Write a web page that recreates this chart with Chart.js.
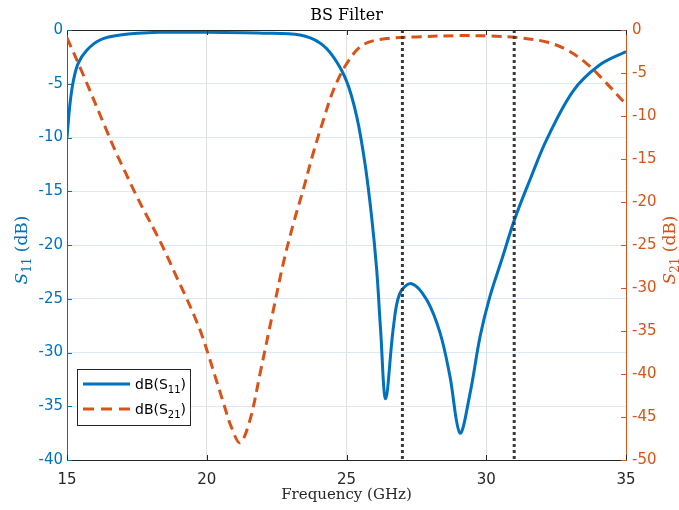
<!DOCTYPE html>
<html>
<head>
<meta charset="utf-8">
<script src="https://cdn.jsdelivr.net/npm/chart.js@4/dist/chart.umd.min.js"></script>
<style>
  html, body { margin: 0; padding: 0; background: #fff; }
  #chart-canvas { display: block; }
</style>
</head>
<body>
<canvas id="chart-canvas" width="679" height="510"></canvas>
<script>
// values
const freqS11 = [15.0, 15.11, 15.23, 15.40, 15.70, 16.18, 16.9, 18.3, 20.0, 22.0, 23.34, 24.05, 24.53, 25.01,
  25.37, 25.66, 25.90, 26.08, 26.22, 26.40, 26.68, 26.91, 27.33, 27.87, 28.35, 28.70, 29.06, 29.42,
  29.78, 30.13, 30.55, 31.03, 31.6, 32.16, 33.1, 34.03, 35.0];
const s11 = [-10.0, -6.8, -4.7, -3.1, -1.9, -0.93, -0.47, -0.22, -0.22, -0.3, -0.47, -1.2, -2.5, -4.8,
  -8.1, -12.4, -17.4, -22.3, -27.9, -34.3, -27.6, -24.5, -23.6, -25.1, -28.2, -32.2, -37.5, -33.8,
  -28.5, -24.8, -21.4, -17.5, -13.7, -10.2, -5.7, -3.3, -2.0];

const freqS21 = [15.0, 15.58, 16.38, 16.72, 17.08, 17.43, 17.82, 18.21, 18.57, 18.89, 19.25, 19.60, 19.84,
  20.06, 20.36, 20.62, 20.86, 21.19, 21.55, 21.91, 22.38, 22.74, 23.10, 23.45, 23.81, 24.17, 24.53,
  25.01, 25.60, 26.44, 27.5, 29.0, 30.13, 31.2, 32.16, 32.88, 33.59, 34.19, 34.85, 35.0];
const s21 = [-0.9, -5.2, -11.4, -14.0, -16.5, -18.9, -21.4, -23.8, -26.2, -28.5, -31.0, -33.6, -35.6,
  -37.8, -40.9, -43.6, -46.0, -48.0, -45.3, -39.9, -32.6, -27.1, -22.5, -18.6, -14.3, -10.5, -7.0,
  -3.9, -1.7, -1.0, -0.8, -0.65, -0.7, -0.9, -1.4, -2.3, -3.9, -5.8, -8.1, -8.6];

const markerFreqs = [27, 31];
const xTicks = [15, 20, 25, 30, 35];
const leftTicks = [0, -5, -10, -15, -20, -25, -30, -35, -40];
const rightTicks = [0, -5, -10, -15, -20, -25, -30, -35, -40, -45, -50];

const BLUE = '#0072BD';
const ORANGE = '#D95319';
const DARK = '#262626';
const SANS = '"DejaVu Sans", sans-serif';
const SERIF = '"DejaVu Serif", serif';

Chart.defaults.font.family = SANS;
Chart.defaults.font.size = 15;

const pts = (xs, ys) => xs.map((x, i) => ({ x: x, y: ys[i] }));

const markerSets = markerFreqs.map(f => ({
  label: 'marker ' + f,
  data: [{ x: f, y: 0 }, { x: f, y: -40 }],
  yAxisID: 'y',
  borderColor: '#3a3a3a',
  borderWidth: 3,
  borderDash: [3, 3],
  pointRadius: 0,
  tension: 0,
  order: 0
}));

// draw text with a subscript part, returns the width used
function subText(ctx, parts, x, y, measureOnly) {
  let w = 0;
  parts.forEach(p => {
    ctx.font = p.font;
    const dw = ctx.measureText(p.t).width;
    if (!measureOnly) ctx.fillText(p.t, x + w, y + (p.dy || 0));
    w += dw;
  });
  return w;
}

const extras = {
  id: 'extras',
  afterDraw(chart) {
    const ctx = chart.ctx;
    const a = chart.chartArea;
    const sx = chart.scales.x, sy = chart.scales.y, sy2 = chart.scales.y2;
    ctx.save();

    // top border
    ctx.strokeStyle = DARK;
    ctx.lineWidth = 1;
    ctx.beginPath();
    ctx.moveTo(a.left, a.top + 0.5);
    ctx.lineTo(a.right, a.top + 0.5);
    ctx.stroke();

    // inward ticks
    const tl = 5;
    ctx.beginPath();
    xTicks.forEach(v => {
      const px = Math.round(sx.getPixelForValue(v)) + 0.5;
      ctx.moveTo(px, a.bottom); ctx.lineTo(px, a.bottom - tl);
      ctx.moveTo(px, a.top); ctx.lineTo(px, a.top + tl);
    });
    ctx.stroke();
    ctx.strokeStyle = BLUE;
    ctx.beginPath();
    leftTicks.forEach(v => {
      const py = Math.round(sy.getPixelForValue(v)) + 0.5;
      ctx.moveTo(a.left, py); ctx.lineTo(a.left + tl, py);
    });
    ctx.stroke();
    ctx.strokeStyle = ORANGE;
    ctx.beginPath();
    rightTicks.forEach(v => {
      const py = Math.round(sy2.getPixelForValue(v)) + 0.5;
      ctx.moveTo(a.right, py); ctx.lineTo(a.right - tl, py);
    });
    ctx.stroke();

    // title and x label
    ctx.fillStyle = '#000';
    ctx.textAlign = 'center';
    ctx.textBaseline = 'alphabetic';
    ctx.font = '16px ' + SERIF;
    ctx.fillText('BS Filter', (a.left + a.right) / 2, 20);
    ctx.fillStyle = DARK;
    ctx.font = '15px ' + SERIF;
    ctx.fillText('Frequency (GHz)', (a.left + a.right) / 2, 499);

    // y axis labels, rotated
    ctx.textAlign = 'left';
    const yLabel = (sub, color, bx, cy) => {
      const parts = [
        { t: 'S', font: 'italic 17px ' + SERIF },
        { t: sub, font: '12px ' + SERIF, dy: 4 },
        { t: ' (dB)', font: '17px ' + SERIF }
      ];
      const w = subText(ctx, parts, 0, 0, true);
      ctx.save();
      ctx.translate(bx, cy);
      ctx.rotate(-Math.PI / 2);
      ctx.fillStyle = color;
      subText(ctx, parts, -w / 2, 0, false);
      ctx.restore();
    };
    yLabel('11', BLUE, 27, 250);
    yLabel('21', ORANGE, 675, 250);

    // legend box
    const lx = 77.5, ly = 369.5, lw = 113, lh = 56;
    ctx.fillStyle = '#fff';
    ctx.fillRect(lx, ly, lw, lh);
    ctx.strokeStyle = DARK;
    ctx.lineWidth = 1;
    ctx.strokeRect(lx, ly, lw, lh);
    const rows = [
      { sub: '11', color: BLUE, dash: [], y: 384 },
      { sub: '21', color: ORANGE, dash: [11, 7], y: 409 }
    ];
    rows.forEach(r => {
      ctx.strokeStyle = r.color;
      ctx.lineWidth = 3;
      ctx.setLineDash(r.dash);
      ctx.beginPath();
      ctx.moveTo(83, r.y);
      ctx.lineTo(130, r.y);
      ctx.stroke();
      ctx.setLineDash([]);
      ctx.fillStyle = '#000';
      subText(ctx, [
        { t: 'dB(S', font: '14px ' + SANS },
        { t: r.sub, font: '10px ' + SANS, dy: 4 },
        { t: ')', font: '14px ' + SANS }
      ], 135, r.y + 5, false);
    });

    ctx.restore();
  }
};

const ctx = document.getElementById('chart-canvas');

let myChart = new Chart(ctx, {
  type: 'line',
  data: {
    datasets: [
      ...markerSets,
      {
        label: 'dB(S11)',
        data: pts(freqS11, s11),
        yAxisID: 'y',
        borderColor: BLUE,
        borderWidth: 3,
        pointRadius: 0,
        tension: 0.35,
        order: 1
      },
      {
        label: 'dB(S21)',
        data: pts(freqS21, s21),
        yAxisID: 'y2',
        borderColor: ORANGE,
        borderWidth: 3,
        borderDash: [10, 6],
        pointRadius: 0,
        tension: 0.35,
        order: 2
      }
    ]
  },
  options: {
    responsive: false,
    animation: false,
    layout: {
      padding: { top: 30, left: 0, right: 0, bottom: 0 }
    },
    scales: {
      x: {
        type: 'linear',
        min: 15,
        max: 35,
        afterFit: s => { s.height = 50; },
        afterBuildTicks: s => { s.ticks = xTicks.map(v => ({ value: v })); },
        ticks: { color: DARK, padding: 11 },
        grid: { color: '#dfdfdf', drawTicks: false },
        border: { color: DARK, width: 1 }
      },
      y: {
        position: 'left',
        min: -40,
        max: 0,
        afterFit: s => { s.width = 67; },
        afterBuildTicks: s => { s.ticks = leftTicks.map(v => ({ value: v })); },
        ticks: { color: BLUE, padding: 4 },
        grid: { color: '#d9eaf5', drawTicks: false },
        border: { color: BLUE, width: 1 }
      },
      y2: {
        position: 'right',
        min: -50,
        max: 0,
        afterFit: s => { s.width = 53; },
        afterBuildTicks: s => { s.ticks = rightTicks.map(v => ({ value: v })); },
        ticks: { color: ORANGE, padding: 6 },
        grid: { display: false, drawTicks: false },
        border: { color: ORANGE, width: 1 }
      }
    },
    plugins: {
      legend: { display: false },
      tooltip: { enabled: false }
    }
  },
  plugins: [extras]
});
</script>
</body>
</html>
